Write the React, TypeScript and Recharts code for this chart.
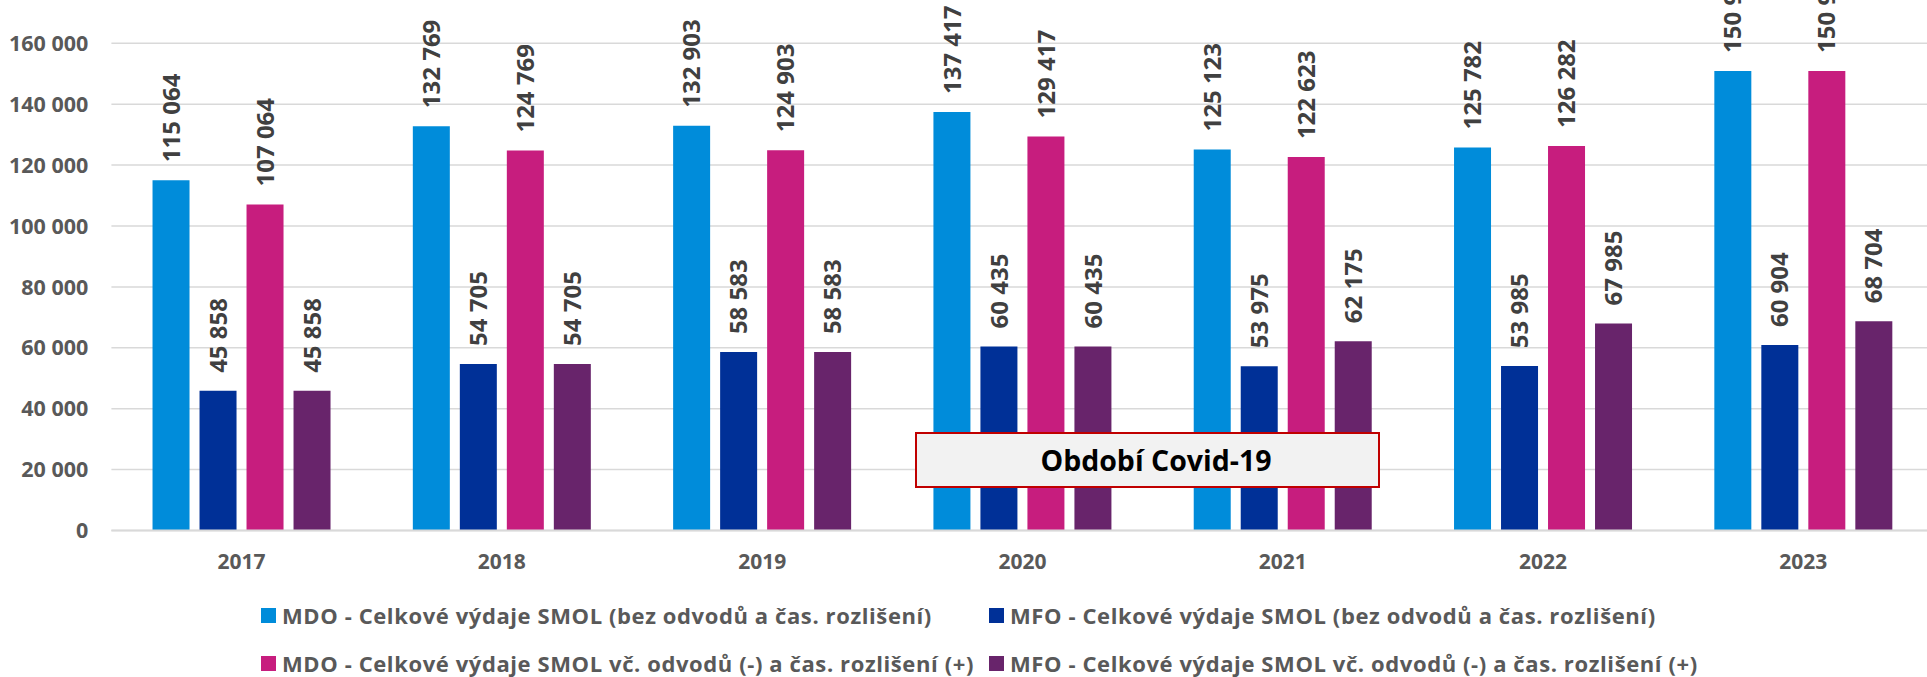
import {
  BarChart,
  Bar,
  XAxis,
  YAxis,
  CartesianGrid,
  Legend,
  LabelList,
} from "recharts";

const years = ["2017", "2018", "2019", "2020", "2021", "2022", "2023"];
const mdoBez = [115064, 132769, 132903, 137417, 125123, 125782, 150904];
const mfoBez = [45858, 54705, 58583, 60435, 53975, 53985, 60904];
const mdoVc = [107064, 124769, 124903, 129417, 122623, 126282, 150904];
const mfoVc = [45858, 54705, 58583, 60435, 62175, 67985, 68704];
const yTicks = [0, 20000, 40000, 60000, 80000, 100000, 120000, 140000, 160000];

const series = [
  { key: "mdoBez", name: "MDO - Celkové výdaje SMOL (bez odvodů a čas. rozlišení)", color: "#008CDA" },
  { key: "mfoBez", name: "MFO - Celkové výdaje SMOL (bez odvodů a čas. rozlišení)", color: "#003097" },
  { key: "mdoVc", name: "MDO - Celkové výdaje SMOL vč. odvodů (-) a čas. rozlišení (+)", color: "#C71D7E" },
  { key: "mfoVc", name: "MFO - Celkové výdaje SMOL vč. odvodů (-) a čas. rozlišení (+)", color: "#68246B" },
];

const data = years.map((year, i) => ({
  year,
  mdoBez: mdoBez[i],
  mfoBez: mfoBez[i],
  mdoVc: mdoVc[i],
  mfoVc: mfoVc[i],
}));

const fmt = (v: number) =>
  Math.round(v).toString().replace(/\B(?=(\d{3})+(?!\d))/g, " ");

const FONT = '"Open Sans", "Noto Sans", sans-serif';

function ValueLabel(props: any) {
  const { x, y, width, value } = props;
  const cx = Number(x) + Number(width) / 2;
  const ty = Number(y) - 18;
  return (
    <text
      x={cx}
      y={ty}
      dy="0.36em"
      transform={`rotate(-90, ${cx}, ${ty})`}
      textAnchor="start"
      fill="#404040"
      fontSize={24}
      fontWeight={700}
      fontFamily={FONT}
    >
      {fmt(Number(value))}
    </text>
  );
}

function ChartLegend() {
  return (
    <div
      style={{
        height: 100,
        paddingTop: 14,
        paddingLeft: 261,
        boxSizing: "border-box",
        display: "grid",
        gridTemplateColumns: "728px auto",
        gridAutoRows: "48px",
        fontFamily: FONT,
        fontSize: 22,
        letterSpacing: 0.6,
        fontWeight: 700,
        color: "#595959",
      }}
    >
      {series.map((s) => (
        <div key={s.key} style={{ display: "flex", alignItems: "center", whiteSpace: "nowrap" }}>
          <span
            style={{
              display: "inline-block",
              width: 15,
              height: 15,
              background: s.color,
              marginRight: 6,
            }}
          />
          <span>{s.name}</span>
        </div>
      ))}
    </div>
  );
}

export default function App() {
  return (
    <div
      style={{
        position: "absolute",
        left: 0,
        top: 0,
        width: 1927,
        height: 677,
        overflow: "hidden",
        background: "#fff",
        fontFamily: FONT,
      }}
    >
      <BarChart
        width={1945}
        height={677}
        data={data}
        margin={{ top: 43.3, right: 11.5, left: 0, bottom: 0 }}
        barCategoryGap="15.8%"
        barGap={10}
      >
        <CartesianGrid vertical={false} stroke="#D9D9D9" strokeWidth={1.5} />
        <XAxis
          dataKey="year"
          height={46.5}
          tickLine={false}
          axisLine={{ stroke: "#D9D9D9", strokeWidth: 2 }}
          tickMargin={17.5}
          tick={{ fill: "#595959", fontSize: 21, fontWeight: 700, fontFamily: FONT }}
        />
        <YAxis
          width={111.4}
          domain={[0, 160000]}
          ticks={yTicks}
          tickFormatter={fmt}
          tickLine={false}
          axisLine={false}
          tickMargin={17}
          tick={{ fill: "#595959", fontSize: 21.5, fontWeight: 700, fontFamily: FONT }}
        />
        <Legend verticalAlign="bottom" content={() => <ChartLegend />} />
        {series.map((s) => (
          <Bar key={s.key} dataKey={s.key} name={s.name} fill={s.color} isAnimationActive={false}>
            <LabelList dataKey={s.key} content={ValueLabel} />
          </Bar>
        ))}
      </BarChart>
      <div
        style={{
          position: "absolute",
          left: 915,
          top: 432,
          width: 465,
          height: 56,
          boxSizing: "border-box",
          background: "#F2F2F2",
          border: "2px solid #C00000",
          display: "flex",
          alignItems: "center",
          justifyContent: "center",
          paddingLeft: 17,
          fontSize: 28.5,
          fontWeight: 700,
          color: "#000",
        }}
      >
        Období Covid-19
      </div>
    </div>
  );
}
